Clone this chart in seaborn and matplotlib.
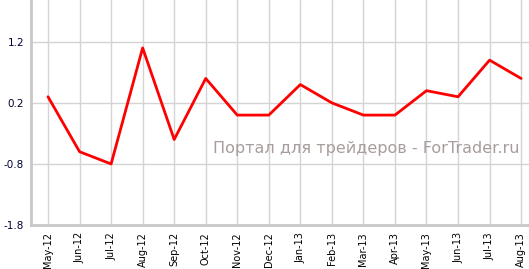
import matplotlib
matplotlib.use("Agg")
import matplotlib.pyplot as plt
import seaborn as sns
import pandas as pd

months = ["May-12", "Jun-12", "Jul-12", "Aug-12", "Sep-12", "Oct-12", "Nov-12", "Dec-12",
          "Jan-13", "Feb-13", "Mar-13", "Apr-13", "May-13", "Jun-13", "Jul-13", "Aug-13"]
values = [0.3, -0.6, -0.8, 1.1, -0.4, 0.6, 0.0, 0.0,
          0.5, 0.2, 0.0, 0.0, 0.4, 0.3, 0.9, 0.6]
yticks = [1.2, 0.2, -0.8, -1.8]
watermark = "Портал для трейдеров - ForTrader.ru"

df = pd.DataFrame({"idx": range(len(months)), "value": values})

sns.set_style("white")
plt.rcParams['font.family'] = ['DejaVu Sans']

fig = plt.figure(figsize=(5.29, 2.69), dpi=100)
ax = fig.add_axes([31/529, 44/269, 1 - 31/529, 225/269])

sns.lineplot(data=df, x="idx", y="value", ax=ax, color="#ff0000", linewidth=2)

ax.set_xlim(-0.54, 15.25)
ax.set_ylim(-1.8, 1.885)
ax.set_xticks(range(len(months)))
ax.set_xticklabels(months, rotation=90, fontsize=7, color="black")
ax.set_yticks(yticks)
ax.set_yticklabels([f"{v:.1f}" for v in yticks], fontsize=7.5, color="#000033")
ax.set_xlabel("")
ax.set_ylabel("")

ax.grid(True, color="#d4d4d4", linewidth=1)
ax.set_axisbelow(True)
for s in ["top", "right"]:
    ax.spines[s].set_visible(False)
for s in ["left", "bottom"]:
    ax.spines[s].set_color("#c8c8c8")
    ax.spines[s].set_linewidth(2)
ax.tick_params(axis="both", length=3, width=1, color="#c8c8c8", pad=2)

ax.text(213/529, 1 - 153/269, watermark, transform=fig.transFigure,
        fontsize=11.5, color="#a89c9c", ha="left", va="baseline")

fig.savefig("out.png", dpi=100)
